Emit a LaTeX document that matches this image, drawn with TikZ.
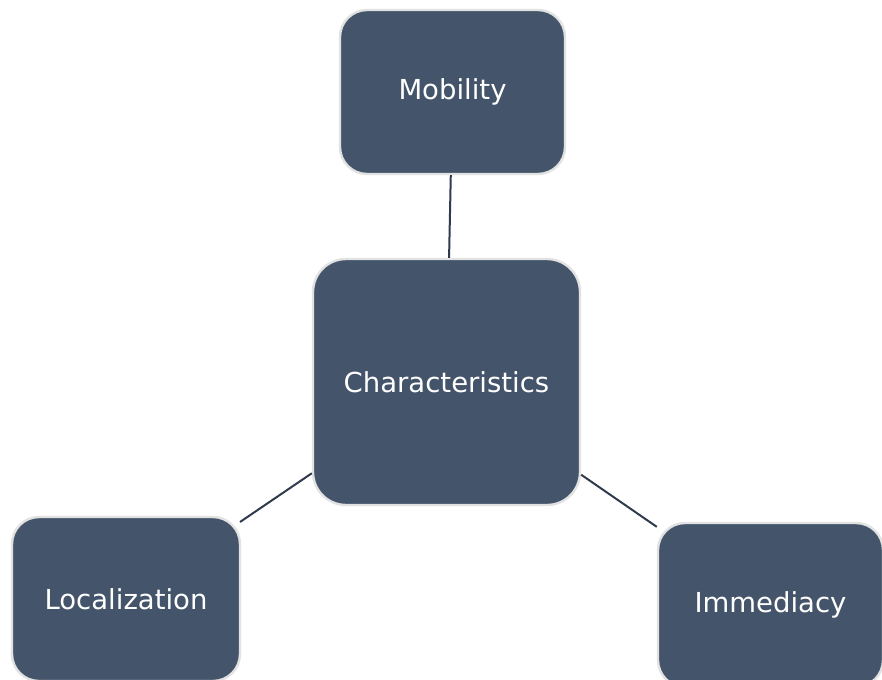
\documentclass[tikz,border=0pt]{standalone}
\usepackage{fontspec}
\setmainfont{DejaVu Sans}
\definecolor{boxfill}{HTML}{44546A}
\definecolor{boxedge}{HTML}{E2E2E2}
\definecolor{linkc}{HTML}{2F3B4C}
\begin{document}
\begin{tikzpicture}[x=1pt,y=1pt,
  card/.style={rectangle, rounded corners=13.5pt, fill=boxfill, draw=boxedge, line width=1.2pt,
    inner sep=0pt, minimum width=112.5pt, minimum height=82pt, text=white,
    font=\fontsize{13.75}{16}\selectfont},
  link/.style={draw=linkc, line width=1pt}]
\useasboundingbox (0,0) rectangle (441,-339.5);
\clip (0,0) rectangle (441,-339.5);
\node[card] (mob) at (226.25,-46) {Mobility};
\node[card, rounded corners=16.5pt, minimum width=133.5pt, minimum height=123pt] (char) at (223.25,-191) {Characteristics};
\node[card, minimum width=114pt] (loc) at (63,-299.5) {Localization};
\node[card] (imm) at (385.25,-302.5) {Immediacy};
\draw[link] (mob) -- (char);
\draw[link, shorten >=-0.7pt] (char) -- (loc);
\draw[link, shorten >=0pt] (char) -- (imm);
\end{tikzpicture}
\end{document}
